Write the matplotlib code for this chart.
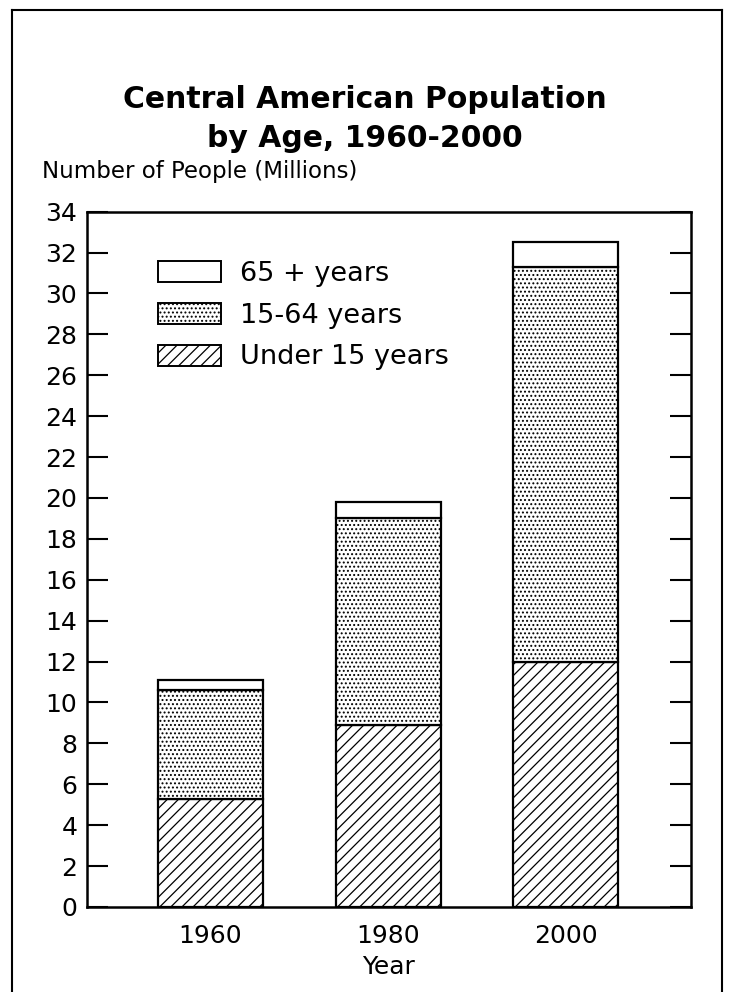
import matplotlib
matplotlib.use("Agg")
import matplotlib.pyplot as plt
from matplotlib.lines import Line2D
from matplotlib.patches import Patch

plt.rcParams['font.family'] = ['DejaVu Sans']
plt.rcParams['hatch.linewidth'] = 0.9

years = ['1960', '1980', '2000']
under15 = [5.3, 8.9, 12.0]
age15_64 = [5.3, 10.1, 19.3]
over65 = [0.5, 0.8, 1.2]
yticks = list(range(0, 35, 2))

fig = plt.figure(figsize=(7.35, 9.92), dpi=100)
ax = fig.add_axes([0.1184, 0.0857, 0.8216, 0.7009])

x = list(range(len(years)))
w = 0.59
mid = [a + b for a, b in zip(under15, age15_64)]
ax.bar(x, under15, w, color='white', edgecolor='black', linewidth=1.6, hatch='///')
ax.bar(x, age15_64, w, bottom=under15, color='white', edgecolor='black', linewidth=1.6, hatch='....')
ax.bar(x, over65, w, bottom=mid, color='white', edgecolor='black', linewidth=1.6)

ax.set_xlim(-0.695, 2.704)
ax.set_ylim(0, 34)
ax.set_yticks(yticks)
ax.set_xticks(x)
ax.set_xticklabels(years)
ax.tick_params(axis='y', direction='in', length=15, width=1.5, labelsize=18, pad=7,
               right=True)
ax.tick_params(axis='x', length=0, labelsize=18, pad=12)
for s in ax.spines.values():
    s.set_linewidth(1.8)
ax.set_xlabel('Year', fontsize=18, labelpad=5)

handles = [Patch(facecolor='white', edgecolor='black', linewidth=1.4),
           Patch(facecolor='white', edgecolor='black', linewidth=1.4, hatch='....'),
           Patch(facecolor='white', edgecolor='black', linewidth=1.4, hatch='///')]
labels = ['65 + years', '15-64 years', 'Under 15 years']
ax.legend(handles, labels, loc='upper left', bbox_to_anchor=(0.118, 0.929),
          frameon=False, fontsize=19.5, handlelength=2.33, handleheight=0.81,
          labelspacing=0.58, handletextpad=0.67, borderpad=0, borderaxespad=0)

fig.text(0.497, 1 - 108 / 992, 'Central American Population', ha='center', va='baseline',
         fontsize=21.5, fontweight='bold')
fig.text(0.497, 1 - 147 / 992, 'by Age, 1960-2000', ha='center', va='baseline',
         fontsize=21.5, fontweight='bold')
fig.text(42 / 735, 1 - 178 / 992, 'Number of People (Millions)', ha='left', va='baseline',
         fontsize=16.5)

# outer frame of the scanned page
fx0, fx1, fy0 = 12 / 735, 722 / 735, 1 - 10 / 992
fig.add_artist(Line2D([fx0, fx1], [fy0, fy0], color='black', lw=1.5))
fig.add_artist(Line2D([fx0, fx0], [fy0, 0], color='black', lw=1.5))
fig.add_artist(Line2D([fx1, fx1], [fy0, 0], color='black', lw=1.5))

fig.savefig('out.png', dpi=100)
